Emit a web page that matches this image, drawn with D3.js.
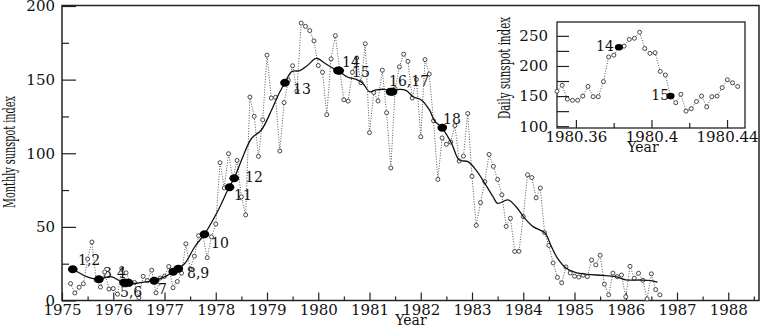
<!DOCTYPE html>
<html>
<head>
<meta charset="utf-8">
<script src="https://cdn.jsdelivr.net/npm/d3@7"></script>
<style>
  body { margin: 0; background: #fff; }
  svg text { font-family: "DejaVu Serif", serif; fill: #111; }
</style>
</head>
<body>
<svg id="chart" width="763" height="327"></svg>
<script>
// monthly sunspot index, March 1975 .. September 1986
var firstMonth = 1975 + 2 / 12;
var monthly = [
  11.5, 5.1, 9.0, 11.4, 28.2, 39.7, 13.9, 9.1, 19.4, 7.8,
  8.1, 4.3, 21.9, 18.8, 12.4, 12.2, 1.9, 16.4, 13.5, 20.6, 5.2, 15.3,
  16.4, 23.1, 8.7, 12.9, 18.6, 38.5, 21.4, 30.1, 44.0, 43.8, 29.1, 43.2,
  51.9, 93.6, 76.5, 99.7, 82.7, 95.1, 70.4, 58.1, 138.2, 125.1, 97.9, 122.7,
  166.6, 137.5, 138.0, 101.5, 134.4, 149.5, 159.4, 142.2, 188.4, 186.2, 183.3, 176.3,
  159.6, 155.0, 126.2, 164.1, 179.9, 157.3, 136.3, 135.4, 155.0, 164.7, 147.9, 174.4,
  114.0, 141.3, 135.5, 156.4, 127.5, 90.0, 143.8, 158.7, 167.3, 162.4, 137.5, 150.1,
  111.2, 163.6, 153.8, 122.0, 82.2, 110.4, 106.1, 107.6, 118.8, 94.7, 98.1, 127.0,
  84.3, 51.0, 66.5, 80.7, 99.2, 91.1, 82.2, 71.8, 50.3, 55.8, 33.3, 33.4,
  57.0, 85.4, 83.5, 69.7, 76.4, 46.1, 37.4, 25.5, 15.7, 12.0, 22.8, 18.7,
  16.5, 15.9, 17.2, 16.2, 27.5, 24.2, 30.7, 11.1, 3.9, 18.6, 16.2, 17.3,
  2.5, 23.2, 15.1, 18.5, 13.7, 1.1, 18.1, 7.4, 3.8
];

// smoothed curve
var smoothYear = [1975.21, 1975.35, 1975.48, 1975.72, 1975.95, 1976.15, 1976.25, 1976.46, 1976.62, 1976.79,
  1977.01, 1977.24, 1977.40, 1977.59, 1977.79, 1978.05, 1978.26, 1978.36, 1978.53, 1978.70,
  1978.89, 1979.09, 1979.22, 1979.35, 1979.48, 1979.64, 1979.80, 1979.96, 1980.13, 1980.29,
  1980.39, 1980.58, 1980.74, 1980.87, 1981.00, 1981.13, 1981.30, 1981.43, 1981.59, 1981.72,
  1981.85, 1982.01, 1982.17, 1982.27, 1982.41, 1982.60, 1982.75, 1982.92, 1983.08, 1983.25,
  1983.41, 1983.50, 1983.70, 1983.86, 1984.03, 1984.20, 1984.42, 1984.55, 1984.67, 1984.84,
  1985.00, 1985.25, 1985.55, 1985.80, 1986.00, 1986.30, 1986.45, 1986.62];
var smoothValue = [21.2, 18.5, 16.2, 14.4, 16.2, 13.0, 12.1, 11.7, 12.6, 13.5,
  16.2, 21.2, 25.3, 36.5, 45.6, 61.5, 76.9, 83.0, 97.7, 110.2,
  115.8, 129.4, 139.6, 147.9, 155.4, 156.1, 159.9, 164.5, 161.1, 157.7,
  156.0, 151.6, 150.2, 147.5, 141.8, 143.0, 143.4, 141.8, 143.4, 142.5,
  138.4, 136.2, 129.4, 122.0, 117.4, 106.8, 95.4, 94.3, 88.6, 79.6,
  70.5, 66.0, 68.3, 63.7, 55.8, 50.0, 46.0, 36.5, 28.6, 21.9,
  19.3, 17.7, 17.1, 16.2, 14.0, 13.9, 13.6, 12.5];

// numbered events on the smoothed curve
var eventYear = [1975.21, 1975.72, 1976.21, 1976.26, 1976.30, 1976.80, 1977.17, 1977.27,
  1977.78, 1978.27, 1978.36, 1979.35, 1980.383, 1980.41, 1981.41, 1981.45, 1982.42];
var eventValue = [21.2, 14.4, 12.2, 12.1, 12.0, 13.4, 19.6, 21.6,
  45.0, 76.9, 83.0, 147.9, 156.2, 156.0, 141.8, 141.8, 117.4];

var labelText = ["1,2", "3", "4", "5,6", "7", "8,9", "10", "11", "12", "13", "14", "15", "16,17", "18"];
var labelYear = [1975.312, 1975.800, 1976.073, 1976.132, 1976.873, 1977.439, 1977.907, 1978.356,
  1978.571, 1979.507, 1980.463, 1980.659, 1981.380, 1982.434];
var labelValue = [24.1, 15.3, 15.3, 2.4, 4.4, 15.3, 35.7, 68.3, 80.5, 140.2, 158.5, 151.7, 145.6, 119.8];

var yearTicks = d3.range(1975, 1989);
var valueTicks = [0, 50, 100, 150, 200];

// inset: daily index around events 14 and 15
var dailyStart = 1980.35;
var daily = [158, 168, 145, 143, 143, 150, 166, 149, 149, 174, 215, 218, 231, 233, 244, 246, 256, 229,
  221, 222, 191, 185, 150, 139, 153, 125, 129, 141, 150, 132, 149, 150, 164, 177, 172, 166];
var dailyEventIndex = [12, 22];
var dailyLabelText = ["14", "15"];
var dailyLabelYear = [1980.3707, 1980.3999];
var dailyLabelValue = [224.8, 143.5];
var insetXTicks = [1980.36, 1980.40, 1980.44];
var insetYTicks = [100, 150, 200, 250];

var svg = d3.select("#chart");

var x = d3.scaleLinear().domain([1975, 1988.6]).range([62, 759]);
var y = d3.scaleLinear().domain([0, 200]).range([300.5, 6]);

function styleTicks(g) {
  g.selectAll(".domain").remove();
  g.selectAll(".tick line").attr("stroke", "#222").attr("stroke-width", 1.2);
  g.selectAll(".tick text").attr("font-size", 15).attr("font-family", "DejaVu Serif").attr("fill", "#111");
}

// axes
var gx = svg.append("g").attr("transform", "translate(0,300.5)");
gx.call(d3.axisBottom(x).tickValues(yearTicks).tickFormat(d3.format("d")).tickSize(-8).tickPadding(4));
gx.append("g").call(d3.axisBottom(x).tickValues(yearTicks.map(function(d) { return d + 0.5; }))
  .tickFormat("").tickSize(-4));

var gy = svg.append("g").attr("transform", "translate(62,0)");
gy.call(d3.axisLeft(y).tickValues(valueTicks).tickSize(-14).tickPadding(7));
gy.append("g").call(d3.axisLeft(y).tickValues([25, 75, 125, 175]).tickFormat("").tickSize(-7));

styleTicks(gx);
styleTicks(gy);

svg.append("rect")
  .attr("x", 62).attr("y", 5.5).attr("width", 697).attr("height", 295)
  .attr("fill", "none").attr("stroke", "#222").attr("stroke-width", 1.5);

svg.append("text")
  .attr("x", 411).attr("y", 325).attr("text-anchor", "middle")
  .attr("font-size", 14).text("Year");

svg.append("text")
  .attr("transform", "translate(15,152) rotate(-90)")
  .attr("text-anchor", "middle")
  .attr("font-family", "Liberation Serif").attr("font-size", 16).attr("fill", "#222")
  .attr("textLength", 112).attr("lengthAdjust", "spacingAndGlyphs")
  .text("Monthly sunspot index");

// monthly series
var monthPts = monthly.map(function(v, i) { return [firstMonth + i / 12, v]; });
var line = d3.line().x(function(d) { return x(d[0]); }).y(function(d) { return y(d[1]); });

svg.append("path").datum(monthPts)
  .attr("d", line)
  .attr("fill", "none").attr("stroke", "#555").attr("stroke-width", 1)
  .attr("stroke-dasharray", "1 1.6");

svg.append("g").selectAll("circle").data(monthPts).enter().append("circle")
  .attr("cx", function(d) { return x(d[0]); })
  .attr("cy", function(d) { return y(d[1]); })
  .attr("r", 2).attr("fill", "#fff").attr("stroke", "#333").attr("stroke-width", 0.9);

// smoothed curve
var smoothPts = smoothYear.map(function(t, i) { return [t, smoothValue[i]]; });
svg.append("path").datum(smoothPts)
  .attr("d", line.curve(d3.curveCatmullRom))
  .attr("fill", "none").attr("stroke", "#111").attr("stroke-width", 1.3);

svg.append("g").selectAll("ellipse").data(eventYear).enter().append("ellipse")
  .attr("cx", function(d) { return x(d); })
  .attr("cy", function(d, i) { return y(eventValue[i]); })
  .attr("rx", 4.8).attr("ry", 4).attr("fill", "#000");

svg.append("g").selectAll("text").data(labelText).enter().append("text")
  .attr("x", function(d, i) { return x(labelYear[i]); })
  .attr("y", function(d, i) { return y(labelValue[i]); })
  .attr("font-size", 14).attr("fill", "#222")
  .text(function(d) { return d; });

// inset
var ix = d3.scaleLinear().domain([1980.35, 1980.4495]).range([557, 745]);
var iy = d3.scaleLinear().domain([97, 273]).range([128, 22]);

svg.append("rect")
  .attr("x", 557).attr("y", 22).attr("width", 188).attr("height", 106)
  .attr("fill", "#fff").attr("stroke", "#222").attr("stroke-width", 1.3);

var ig = svg.append("g");
var igx = ig.append("g").attr("transform", "translate(0,128)");
igx.call(d3.axisBottom(ix).tickValues(insetXTicks)
  .tickFormat(function(d) { return d === 1980.40 ? "1980.4" : d.toFixed(2); })
  .tickSize(-8).tickPadding(3));
igx.append("g").call(d3.axisBottom(ix).tickValues([1980.38, 1980.42]).tickFormat("").tickSize(-5));

var igy = ig.append("g").attr("transform", "translate(557,0)");
igy.call(d3.axisLeft(iy).tickValues(insetYTicks).tickSize(-12).tickPadding(9));
igy.append("g").call(d3.axisLeft(iy).tickValues([125, 175, 225]).tickFormat("").tickSize(-12));

styleTicks(igx);
styleTicks(igy);

ig.append("text")
  .attr("x", 643).attr("y", 152).attr("text-anchor", "middle")
  .attr("font-size", 14).text("Year");

ig.append("text")
  .attr("transform", "translate(510,68) rotate(-90)")
  .attr("text-anchor", "middle")
  .attr("font-family", "Liberation Serif").attr("font-size", 16).attr("fill", "#222")
  .attr("textLength", 102).attr("lengthAdjust", "spacingAndGlyphs")
  .text("Daily sunspot index");

var dayPts = daily.map(function(v, i) { return [dailyStart + i / 366, v]; });
var iline = d3.line().x(function(d) { return ix(d[0]); }).y(function(d) { return iy(d[1]); });

ig.append("path").datum(dayPts)
  .attr("d", iline)
  .attr("fill", "none").attr("stroke", "#555").attr("stroke-width", 1)
  .attr("stroke-dasharray", "1 1.6");

ig.append("g").selectAll("circle").data(dayPts).enter().append("circle")
  .attr("cx", function(d) { return ix(d[0]); })
  .attr("cy", function(d) { return iy(d[1]); })
  .attr("r", 2).attr("fill", "#fff").attr("stroke", "#333").attr("stroke-width", 0.9);

ig.append("g").selectAll("ellipse").data(dailyEventIndex).enter().append("ellipse")
  .attr("cx", function(d) { return ix(dayPts[d][0]); })
  .attr("cy", function(d) { return iy(dayPts[d][1]); })
  .attr("rx", 4).attr("ry", 3.3).attr("fill", "#000");

ig.append("g").selectAll("text").data(dailyLabelText).enter().append("text")
  .attr("x", function(d, i) { return ix(dailyLabelYear[i]); })
  .attr("y", function(d, i) { return iy(dailyLabelValue[i]); })
  .attr("font-size", 14).attr("fill", "#222")
  .text(function(d) { return d; });
</script>
</body>
</html>
